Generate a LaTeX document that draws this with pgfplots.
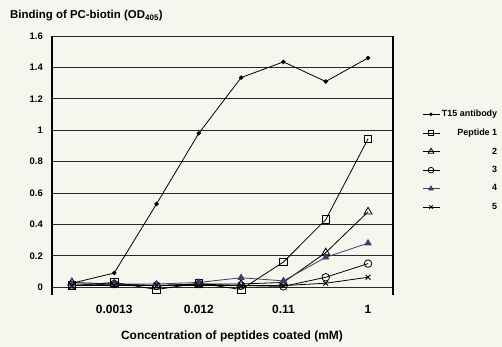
\documentclass[border=0pt]{standalone}
\usepackage{pgfplots}
\pgfplotsset{compat=1.18}
\usepackage{fontspec}
\setmainfont{Liberation Sans}
\definecolor{bg}{RGB}{246,246,238}
\definecolor{gridc}{RGB}{40,40,40}
\definecolor{pfour}{RGB}{60,60,110}
\begin{document}
\begin{tikzpicture}
\fill[bg] (0bp,0bp) rectangle (502bp,347bp);
\path[use as bounding box] (0bp,0bp) rectangle (502bp,347bp);
\begin{axis}[at={(52bp,52bp)}, anchor=south west, scale only axis,
  width=341bp, height=259bp,
  xmin=0.53, xmax=8.59, ymin=-0.05, ymax=1.6,
  xtick={2,4,6,8}, xticklabels={0.0013,0.012,0.11,1},
  ytick={0,0.2,0.4,0.6,0.8,1,1.2,1.4,1.6},
  yticklabels={0,0.2,0.4,0.6,0.8,1,1.2,1.4,1.6},
  ymajorgrids, grid style={gridc, line width=0.8pt},
  major tick length=0pt,
  separate axis lines,
  x axis line style={draw=none},
  y axis line style={line width=1.1pt, black},
  xticklabel style={font=\bfseries\fontsize{12}{12}\selectfont, inner sep=0pt, yshift=-10bp},
  yticklabel style={font=\bfseries\fontsize{9.5}{10}\selectfont, inner sep=0pt, xshift=-9bp},
  legend style={at={(1.312,0.722)}, anchor=north east, draw=none, fill=none,
    font=\bfseries\fontsize{9}{10}\selectfont, row sep=6.8bp, inner sep=0pt},
  legend image post style={every mark/.append style={scale=0.75}},
  legend cell align=right,
  clip=false,
]
\addplot[black, line width=0.8pt, mark=*, mark size=1.8pt] coordinates {
 (1,0.025)(2,0.09)(3,0.53)(4,0.98)(5,1.335)(6,1.435)(7,1.31)(8,1.46)};
\addlegendentry{T15 antibody}
\addplot[black, line width=0.8pt, mark=square, mark size=3.8pt, mark options={fill=bg}] coordinates {
 (1,0.01)(2,0.03)(3,-0.015)(4,0.025)(5,-0.015)(6,0.16)(7,0.43)(8,0.945)};
\addlegendentry{Peptide 1}
\addplot[black, line width=0.8pt, mark=triangle, mark size=4.5pt, mark options={fill=bg}] coordinates {
 (1,0.03)(2,0.02)(3,0.01)(4,0.02)(5,0.02)(6,0.03)(7,0.22)(8,0.48)};
\addlegendentry{2}
\addplot[black, line width=0.8pt, mark=o, mark size=3.8pt, mark options={fill=bg}] coordinates {
 (1,0.01)(2,0.02)(3,0.01)(4,0.02)(5,0.01)(6,0.005)(7,0.063)(8,0.15)};
\addlegendentry{3}
\addplot[pfour, line width=0.8pt, mark=triangle*, mark size=3.5pt] coordinates {
 (1,0.02)(2,0.02)(3,0.02)(4,0.03)(5,0.06)(6,0.04)(7,0.19)(8,0.28)};
\addlegendentry{4}
\addplot[black, line width=0.8pt, mark=x, mark size=3.5pt] coordinates {
 (1,0.01)(2,0.01)(3,0.01)(4,0.01)(5,0.01)(6,0.01)(7,0.025)(8,0.063)};
\addlegendentry{5}
\end{axis}
\node[anchor=base west, font=\bfseries\fontsize{11.5}{12}\selectfont, inner sep=0pt] at (10bp,328bp) {Binding of PC-biotin (OD\textsubscript{405})};
\node[anchor=base, font=\bfseries\fontsize{12}{12}\selectfont, inner sep=0pt] at (232bp,8bp) {Concentration of peptides coated (mM)};
\end{tikzpicture}
\end{document}
